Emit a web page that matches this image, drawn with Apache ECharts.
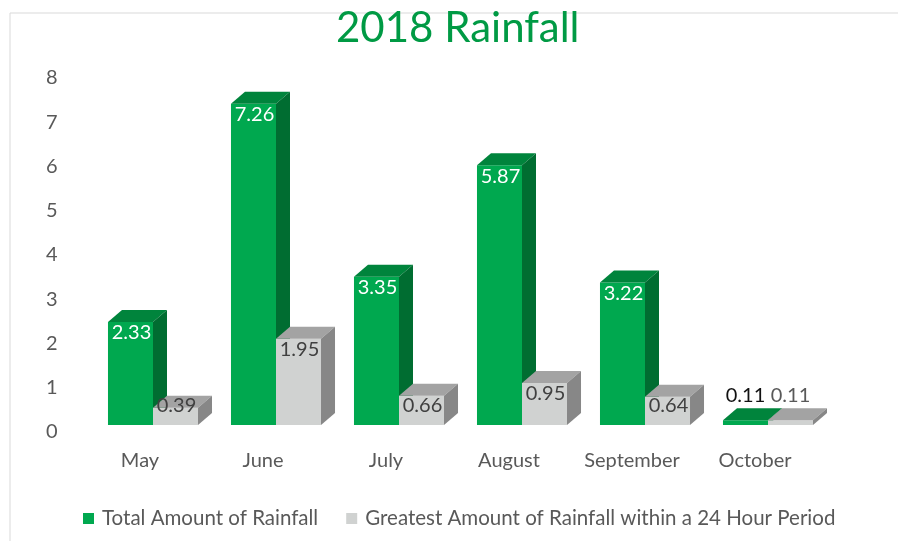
<!DOCTYPE html>
<html>
<head>
<meta charset="utf-8">
<script src="https://cdn.jsdelivr.net/npm/echarts@6/dist/echarts.min.js"></script>
<style>
  html, body { margin: 0; padding: 0; background: #fff; }
  #main { width: 898px; height: 541px; }
</style>
</head>
<body>
<div id="main"></div>
<script>
// data
var months = ['May', 'June', 'July', 'August', 'September', 'October'];
var totalRain = [2.33, 7.26, 3.35, 5.87, 3.22, 0.11];
var maxDayRain = [0.39, 1.95, 0.66, 0.95, 0.64, 0.11];
var yTicks = [0, 1, 2, 3, 4, 5, 6, 7, 8];

var FONT = 'Lato';

// colours of the three visible faces of each box
var faces = {
  green: { front: '#00A84F', top: '#00843C', side: '#006D31', inText: '#ffffff', outText: '#111111' },
  gray:  { front: '#D0D2D1', top: '#A3A3A3', side: '#878787', inText: '#404040', outText: '#595959' }
};

// 3d box drawn from the axis scale; shift = which half of the category
function boxRenderer(pal, shift) {
  return function (params, api) {
    var idx = api.value(0);
    var val = api.value(1);
    var base = api.coord([idx, 0]);
    var top = api.coord([idx, val]);
    var band = api.size([1, 0])[0];
    var w = band * 0.366;
    var dx = 14, dy = -12, oy = -7;
    var x0 = base[0] + (shift ? 0 : -w);
    var by = base[1] + oy;
    var ty = top[1] + oy;
    var h = by - ty;
    var label = val.toFixed(2);
    var inside = h > 10;
    return {
      type: 'group',
      children: [
        { type: 'rect', shape: { x: x0, y: ty, width: w, height: h }, style: { fill: pal.front } },
        { type: 'polygon', shape: { points: [[x0, ty], [x0 + dx, ty + dy], [x0 + w + dx, ty + dy], [x0 + w, ty]] }, style: { fill: pal.top } },
        { type: 'polygon', shape: { points: [[x0 + w, ty], [x0 + w + dx, ty + dy], [x0 + w + dx, by + dy], [x0 + w, by]] }, style: { fill: pal.side } },
        {
          type: 'text',
          style: {
            text: label,
            x: x0 + w / 2 + (inside ? 1 : 0),
            y: inside ? Math.min(ty + 11, by - 19) : ty - 25,
            align: 'center',
            verticalAlign: 'middle',
            fill: inside ? pal.inText : pal.outText,
            fontSize: 20,
            fontFamily: FONT
          }
        }
      ]
    };
  };
}

function toPairs(arr) {
  return arr.map(function (v, i) { return [i, v]; });
}

var chart = echarts.init(document.getElementById('main'));
var option = {
  backgroundColor: '#fff',
  animation: false,
  title: {
    text: '2018 Rainfall',
    left: 331,
    top: 2,
    textStyle: { color: '#009A44', fontSize: 42, fontWeight: 'normal', fontFamily: FONT }
  },
  legend: {
    left: 78,
    top: 503,
    itemWidth: 11,
    itemHeight: 11,
    itemGap: 28,
    icon: 'rect',
    textStyle: { color: '#595959', fontSize: 20.5, fontFamily: FONT, padding: [0, 0, 0, 3] },
    data: ['Total Amount of Rainfall', 'Greatest Amount of Rainfall within a 24 Hour Period']
  },
  graphic: [
    { type: 'line', shape: { x1: 10, y1: 13, x2: 898, y2: 13 }, style: { stroke: '#d9d9d9', lineWidth: 1 } },
    { type: 'line', shape: { x1: 10, y1: 13, x2: 10, y2: 541 }, style: { stroke: '#d9d9d9', lineWidth: 1 } }
  ],
  grid: { left: 91.5, right: 68.5, top: 78, bottom: 109 },
  xAxis: {
    type: 'category',
    data: months,
    axisLine: { show: false },
    axisTick: { show: false },
    axisLabel: {
      interval: 0,
      hideOverlap: false,
      color: '#595959',
      fontSize: 20,
      fontFamily: FONT,
      margin: 19,
      padding: [0, 26, 0, 0]
    }
  },
  yAxis: {
    type: 'value',
    min: yTicks[0],
    max: yTicks[yTicks.length - 1],
    interval: 1,
    splitLine: { show: false },
    axisLine: { show: false },
    axisTick: { show: false },
    axisLabel: { color: '#595959', fontSize: 20, fontFamily: FONT, margin: 34 }
  },
  series: [
    {
      name: 'Total Amount of Rainfall',
      type: 'custom',
      itemStyle: { color: faces.green.front },
      renderItem: boxRenderer(faces.green, 0),
      encode: { x: 0, y: 1 },
      data: toPairs(totalRain)
    },
    {
      name: 'Greatest Amount of Rainfall within a 24 Hour Period',
      type: 'custom',
      itemStyle: { color: faces.gray.front },
      renderItem: boxRenderer(faces.gray, 1),
      encode: { x: 0, y: 1 },
      data: toPairs(maxDayRain)
    }
  ]
};
chart.setOption(option);
</script>
</body>
</html>
